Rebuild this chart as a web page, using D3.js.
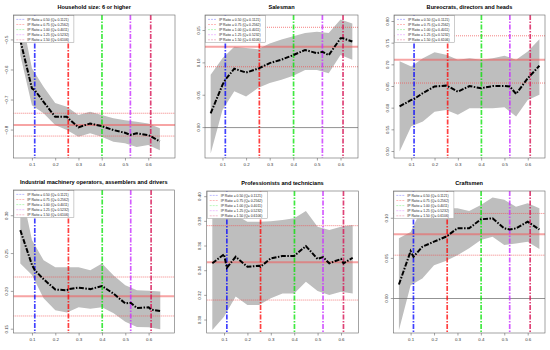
<!DOCTYPE html>
<meta charset="utf-8">
<style>
body { margin: 0; background: #fff; }
svg { font-family: "Liberation Sans", Arial, sans-serif; }
.title { font-weight: bold; font-size: 5.6px; text-anchor: middle; }
.tick text { font-size: 4.4px; fill: #333; }
.legend text { font-size: 3.4px; fill: #222; }
</style>
<body>
<svg width="550" height="350"></svg>
<script src="https://cdn.jsdelivr.net/npm/d3@7"></script>
<script>

// x positions of the estimates (grid + the IP ratio quantiles)
var lineX = [0.05, 0.1, 0.1121, 0.15, 0.2, 0.25, 0.2562, 0.3, 0.35, 0.4, 0.45, 0.5, 0.5232, 0.55, 0.6, 0.6106, 0.65];
var bandX = [0.05, 0.1, 0.15, 0.2, 0.25, 0.3, 0.35, 0.4, 0.45, 0.5, 0.55, 0.6, 0.65];

var ipRatios = ["0.50", "0.75", "1.00", "1.25", "1.50"];
var qValues = [0.1121, 0.2562, 0.4011, 0.5232, 0.6106];
var qColors = ["rgba(0,0,255,0.75)", "rgba(255,0,0,0.75)", "rgba(0,225,0,0.75)", "rgba(200,50,255,0.8)", "rgba(215,20,85,0.8)"];

var titles = ["Household size: 6 or higher", "Salesman", "Bureocrats, directors and heads",
  "Industrial machinery operators, assemblers and drivers", "Professionists and technicians", "Craftsmen"];

var householdEst = [-0.50, -0.661, -0.667, -0.706, -0.756, -0.756, -0.761, -0.791, -0.778, -0.787, -0.800, -0.809, -0.816, -0.811, -0.817, -0.820, -0.838];
var householdHi = [-0.40, -0.594, -0.656, -0.710, -0.722, -0.750, -0.739, -0.750, -0.761, -0.767, -0.772, -0.778, -0.794];
var householdLo = [-0.55, -0.717, -0.744, -0.783, -0.800, -0.822, -0.811, -0.822, -0.839, -0.844, -0.856, -0.850, -0.867];
var householdRef = [-0.783, -0.744, -0.820];

var salesEst = [0.022, 0.066, 0.074, 0.091, 0.085, 0.091, 0.092, 0.0996, 0.105, 0.112, 0.120, 0.115, 0.117, 0.112, 0.138, 0.138, 0.133];
var salesHi = [0.0815, 0.107, 0.125, 0.123, 0.121, 0.130, 0.136, 0.141, 0.146, 0.148, 0.146, 0.167, 0.161];
var salesLo = [-0.040, 0.027, 0.056, 0.048, 0.061, 0.069, 0.074, 0.080, 0.089, 0.089, 0.084, 0.112, 0.105];
var salesRef = [0.125, 0.155, 0.094];

var bureauEst = [0.604, 0.619, 0.621, 0.635, 0.650, 0.652, 0.651, 0.638, 0.651, 0.646, 0.651, 0.651, 0.650, 0.633, 0.669, 0.675, 0.698];
var bureauHi = [0.708, 0.696, 0.715, 0.729, 0.723, 0.712, 0.715, 0.712, 0.715, 0.721, 0.712, 0.731, 0.759];
var bureauLo = [0.500, 0.558, 0.569, 0.592, 0.596, 0.585, 0.600, 0.600, 0.600, 0.602, 0.581, 0.619, 0.631];
var bureauRef = [0.7115, 0.767, 0.658];

var industryEst = [0.281, 0.235, 0.228, 0.216, 0.2025, 0.2015, 0.203, 0.205, 0.203, 0.207, 0.197, 0.184, 0.185, 0.178, 0.179, 0.176, 0.174];
var industryHi = [0.34, 0.268, 0.241, 0.232, 0.232, 0.232, 0.228, 0.237, 0.221, 0.208, 0.2015, 0.201, 0.200];
var industryLo = [0.237, 0.2215, 0.191, 0.175, 0.172, 0.179, 0.177, 0.179, 0.171, 0.160, 0.153, 0.1525, 0.150];
var industryRef = [0.1936, 0.219, 0.1675];

var profEst = [0.346, 0.3533, 0.3424, 0.3513, 0.3432, 0.344, 0.3432, 0.350, 0.3519, 0.3519, 0.360, 0.3495, 0.351, 0.346, 0.3495, 0.346, 0.3505];
var profHi = [0.41, 0.3838, 0.3852, 0.3797, 0.3797, 0.380, 0.381, 0.3825, 0.3884, 0.3757, 0.373, 0.3757, 0.377];
var profLo = [0.292, 0.3027, 0.319, 0.3122, 0.3122, 0.3176, 0.3216, 0.3216, 0.331, 0.3235, 0.3203, 0.323, 0.3216];
var profRef = [0.3468, 0.3765, 0.3162];

var craftEst = [0.0175, 0.059, 0.052, 0.0645, 0.0708, 0.077, 0.078, 0.0875, 0.0875, 0.0987, 0.100, 0.0875, 0.086, 0.0875, 0.0958, 0.0937, 0.086];
var craftHi = [0.075, 0.083, 0.1137, 0.1137, 0.1125, 0.1125, 0.109, 0.1166, 0.1258, 0.123, 0.1145, 0.1187, 0.1125];
var craftLo = [-0.0396, 0.0166, 0.025, 0.0416, 0.0466, 0.054, 0.0625, 0.0729, 0.077, 0.0666, 0.0687, 0.0708, 0.0616];
var craftRef = [0.08, 0.106, 0.054];

var xTicks = [0.1, 0.2, 0.3, 0.4, 0.5, 0.6];
var yTicks = [
  [-0.8, -0.7, -0.6, -0.5],
  [0, 0.05, 0.10, 0.15],
  [0.50, 0.55, 0.60, 0.65, 0.70, 0.75, 0.80],
  [0.15, 0.20, 0.25, 0.30],
  [0.30, 0.32, 0.34, 0.36, 0.38, 0.40],
  [0, 0.05, 0.10]
];

// panel layout: plot box + axis limits
var panels = [
  {est: householdEst, hi: householdHi, lo: householdLo, ref: householdRef, zero: false, fmt: ".1f",
   box: [13.3, 15, 175, 158], xlim: [0.02, 0.715], ylim: [-0.893, -0.417]},
  {est: salesEst, hi: salesHi, lo: salesLo, ref: salesRef, zero: true, fmt: ".2f",
   box: [205, 15, 358, 158], xlim: [0.026, 0.674], ylim: [-0.047, 0.174]},
  {est: bureauEst, hi: bureauHi, lo: bureauLo, ref: bureauRef, zero: false, fmt: ".2f",
   box: [394, 15, 545, 158], xlim: [0.026, 0.674], ylim: [0.485, 0.815]},
  {est: industryEst, hi: industryHi, lo: industryLo, ref: industryRef, zero: false, fmt: ".2f",
   box: [13.3, 190, 174.3, 333], xlim: [0.02, 0.71], ylim: [0.145, 0.334]},
  {est: profEst, hi: profHi, lo: profLo, ref: profRef, zero: false, fmt: ".2f",
   box: [206.7, 191, 358.3, 333], xlim: [0.026, 0.674], ylim: [0.2895, 0.4046]},
  {est: craftEst, hi: craftHi, lo: craftLo, ref: craftRef, zero: true, fmt: ".2f",
   box: [393.3, 191, 545, 333], xlim: [0.026, 0.674], ylim: [-0.043, 0.134]}
];

var svg = d3.select("svg");
var defs = svg.append("defs");

panels.forEach(function(p, i) {
  var x0 = p.box[0], y0 = p.box[1], x1 = p.box[2], y1 = p.box[3];
  var x = d3.scaleLinear().domain(p.xlim).range([x0, x1]);
  var y = d3.scaleLinear().domain(p.ylim).range([y1, y0]);

  defs.append("clipPath").attr("id", "clip" + i)
    .append("rect").attr("x", x0).attr("y", y0).attr("width", x1 - x0).attr("height", y1 - y0);

  var g = svg.append("g");
  var plot = g.append("g").attr("clip-path", "url(#clip" + i + ")");

  // confidence band
  var area = d3.area()
    .x(function(d, j) { return x(bandX[j]); })
    .y0(function(d, j) { return y(p.lo[j]); })
    .y1(function(d) { return y(d); });
  plot.append("path").datum(p.hi)
    .attr("d", area)
    .attr("fill", "#bebebe");

  if (p.zero) {
    plot.append("line")
      .attr("x1", x0).attr("x2", x1).attr("y1", y(0)).attr("y2", y(0))
      .attr("stroke", "#777").attr("stroke-width", 0.8);
  }

  // reference lines: estimate and its bounds
  plot.selectAll(".ref").data(p.ref).enter().append("line")
    .attr("x1", x0).attr("x2", x1)
    .attr("y1", function(d) { return y(d); })
    .attr("y2", function(d) { return y(d); })
    .attr("stroke", function(d, j) { return j == 0 ? "rgba(240,90,90,0.55)" : "rgba(240,80,80,0.8)"; })
    .attr("stroke-width", function(d, j) { return j == 0 ? 2 : 0.9; })
    .attr("stroke-dasharray", function(d, j) { return j == 0 ? null : "1,1"; });

  // quantile lines
  plot.selectAll(".q").data(qValues).enter().append("line")
    .attr("x1", function(d) { return x(d); })
    .attr("x2", function(d) { return x(d); })
    .attr("y1", y0).attr("y2", y1)
    .attr("stroke", function(d, j) { return qColors[j]; })
    .attr("stroke-width", 1.7)
    .attr("stroke-dasharray", "5,1.5,1.5,1.5");

  var line = d3.line()
    .x(function(d, j) { return x(lineX[j]); })
    .y(function(d) { return y(d); });
  plot.append("path").datum(p.est)
    .attr("d", line)
    .attr("fill", "none")
    .attr("stroke", "#000")
    .attr("stroke-width", 2)
    .attr("stroke-dasharray", "5,1.5,1.5,1.5");

  // axes
  var xa = g.append("g").attr("transform", "translate(0," + y1 + ")")
    .call(d3.axisBottom(x).tickValues(xTicks).tickFormat(d3.format(".1f")).tickSize(2.5).tickPadding(2));
  var ya = g.append("g").attr("transform", "translate(" + x0 + ",0)")
    .call(d3.axisLeft(y).tickValues(yTicks[i]).tickFormat(d3.format(p.fmt)).tickSize(2.5).tickPadding(2));
  [xa, ya].forEach(function(a) {
    a.select(".domain").remove();
    a.selectAll("line").attr("stroke", "#666").attr("stroke-width", 0.6);
  });
  ya.selectAll("text")
    .attr("text-anchor", "middle")
    .attr("x", null)
    .attr("dy", null)
    .attr("transform", function(d) { return "translate(-5.5," + y(d) + ") rotate(-90)"; })
    .attr("y", 0);
  ya.selectAll(".tick").attr("transform", null);
  ya.selectAll(".tick line")
    .attr("y1", function(d) { return y(d); })
    .attr("y2", function(d) { return y(d); });

  // legend
  var lg = g.append("g").attr("class", "legend");
  lg.append("rect")
    .attr("x", x0 + 0.6).attr("y", y0 + 0.6).attr("width", 60).attr("height", 27)
    .attr("fill", "#fff").attr("stroke", "#999").attr("stroke-width", 0.5);
  ipRatios.forEach(function(r, j) {
    var ly = y0 + 4.4 + j * 5.1;
    lg.append("line")
      .attr("x1", x0 + 3).attr("x2", x0 + 11).attr("y1", ly).attr("y2", ly)
      .attr("stroke", qColors[j]).attr("stroke-opacity", 0.45).attr("stroke-width", 0.8)
      .attr("stroke-dasharray", "2,1");
    lg.append("text")
      .attr("x", x0 + 14).attr("y", ly + 1.2)
      .text("IP Ratio = " + r + " (Q= " + qValues[j].toFixed(4) + ")");
  });

  g.append("rect")
    .attr("x", x0).attr("y", y0).attr("width", x1 - x0).attr("height", y1 - y0)
    .attr("fill", "none").attr("stroke", "#666").attr("stroke-width", 0.6);

  g.append("text").attr("class", "title")
    .attr("x", (x0 + x1) / 2).attr("y", y0 - 6)
    .text(titles[i]);
});

</script>
